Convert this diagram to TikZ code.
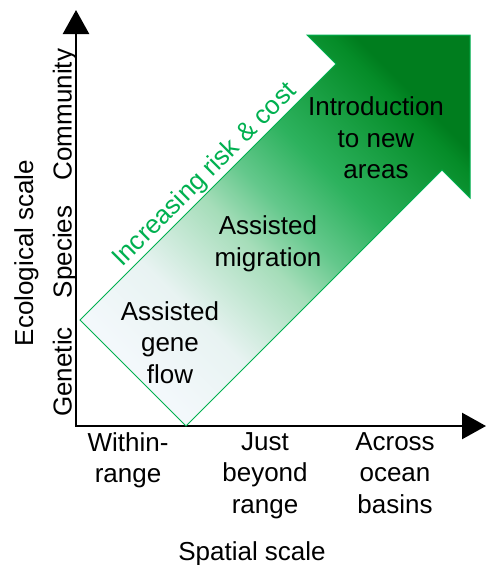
\documentclass[tikz,border=0pt]{standalone}
\usepackage{fontspec}
\setmainfont{Liberation Sans}
\usetikzlibrary{arrows.meta}

\definecolor{riskgreen}{RGB}{0,176,80}
\definecolor{fill0}{RGB}{243,248,251}
\definecolor{fill1}{RGB}{232,243,242}
\definecolor{fill2}{RGB}{165,221,185}
\definecolor{fill3}{RGB}{100,200,140}
\definecolor{fill4}{RGB}{45,178,94}
\definecolor{fill5}{RGB}{5,140,40}
\definecolor{fill6}{RGB}{0,125,30}

% pale at the tail, deep green at the head
\pgfdeclareverticalshading{riskshade}{100bp}{
  color(0bp)=(fill0); color(25bp)=(fill0); color(35bp)=(fill1);
  color(46.5bp)=(fill2); color(52.5bp)=(fill3); color(60bp)=(fill4);
  color(72.75bp)=(fill5); color(75bp)=(fill6); color(100bp)=(fill6)}

\begin{document}
\begin{tikzpicture}[x=1pt,y=-1pt,
    lbl/.style={inner sep=0pt,align=center,font=\fontsize{26}{31.5}\selectfont},
    axis/.style={line width=2.5pt,line join=miter,
      {Triangle[length=24pt,width=26pt]}-{Triangle[length=24pt,width=26pt]}},
  ]
  \useasboundingbox (0,0) rectangle (486,565);

  % axes
  \coordinate (O)    at (76,426);
  \coordinate (ytop) at (76,10);
  \coordinate (xend) at (486,426);
  \draw[axis] (ytop) -- (O) -- (xend);

  % the big diagonal arrow
  \shade[draw=riskgreen,line width=1pt,shading=riskshade,shading angle=-45]
    (80,320) -- (336,64) -- (307,35) -- (470,35) -- (470,198)
    -- (442,170) -- (186,426) -- cycle;
  \node[lbl,text=riskgreen,rotate=45,anchor=base] (risk) at (210,180) {Increasing risk \& cost};

  % options along the arrow
  \node[lbl] (agf)   at (170,342.5) {Assisted\\gene\\flow};
  \node[lbl] (am)    at (268,244)   {Assisted\\migration};
  \node[lbl] (intro) at (376,138)   {Introduction\\to new\\areas};

  % ecological scale
  \node[lbl,rotate=90,anchor=base] (gen) at (71.5,372) {Genetic};
  \node[lbl,rotate=90,anchor=base] (spe) at (71.5,252) {Species};
  \node[lbl,rotate=90,anchor=base] (com) at (71.5,114.5) {Community};
  \node[lbl,rotate=90,anchor=base] (eco) at (33,253) {Ecological scale};

  % spatial scale
  \node[lbl,anchor=north] (win) at (128,432) {Within-\\range};
  \node[lbl,anchor=north] (jbr) at (265,432) {Just\\beyond\\range};
  \node[lbl,anchor=north] (aob) at (395,432) {Across\\ocean\\basins};
  \node[lbl,anchor=north] (spa) at (252,541) {Spatial scale};
\end{tikzpicture}
\end{document}
